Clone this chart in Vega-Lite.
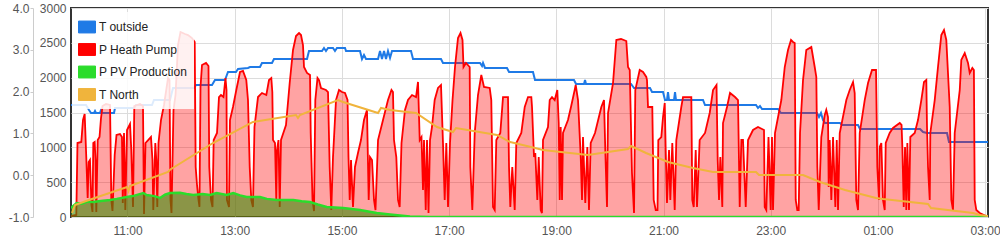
{
"$schema": "https://vega.github.io/schema/vega-lite/v6.json",
"width": 917, "height": 209,
"autosize": {"type": "none"},
"padding": {"left": 71, "top": 8, "right": 12, "bottom": 28},
"background": "white",
"config": {
  "view": {"stroke": "#333", "strokeWidth": 2},
  "font": "Liberation Sans",
  "axis": {"labelFont": "Liberation Sans", "labelFontSize": 12, "labelColor": "#555", "title": null}
},
"datasets": {
"hp": [
{"h":9.946,"v":14},{"h":10.045,"v":29},{"h":10.067,"v":1062},{"h":10.138,"v":1077},{"h":10.170,"v":1392},{"h":10.201,"v":1478},{"h":10.231,"v":861},{"h":10.257,"v":273},{"h":10.276,"v":789},{"h":10.300,"v":818},{"h":10.328,"v":172},{"h":10.347,"v":72},{"h":10.362,"v":1062},{"h":10.388,"v":1077},{"h":10.403,"v":818},{"h":10.418,"v":72},{"h":10.444,"v":1105},{"h":10.478,"v":1148},{"h":10.506,"v":1421},{"h":10.534,"v":1593},{"h":10.599,"v":1622},{"h":10.674,"v":1608},{"h":10.698,"v":244},{"h":10.720,"v":86},{"h":10.761,"v":890},{"h":10.795,"v":1177},{"h":10.860,"v":1191},{"h":10.897,"v":1148},{"h":10.912,"v":201},{"h":10.935,"v":1206},{"h":10.959,"v":100},{"h":10.991,"v":1249},{"h":11.047,"v":1335},{"h":11.071,"v":962},{"h":11.103,"v":144},{"h":11.127,"v":1593},{"h":11.233,"v":1622},{"h":11.289,"v":1593},{"h":11.308,"v":43},{"h":11.336,"v":1062},{"h":11.438,"v":1148},{"h":11.466,"v":818},{"h":11.481,"v":100},{"h":11.519,"v":1062},{"h":11.537,"v":818},{"h":11.556,"v":144},{"h":11.578,"v":1062},{"h":11.625,"v":1392},{"h":11.681,"v":1608},{"h":11.756,"v":1995},{"h":11.784,"v":1966},{"h":11.802,"v":244},{"h":11.821,"v":57},{"h":11.858,"v":1536},{"h":11.896,"v":1751},{"h":11.942,"v":2469},{"h":11.989,"v":2655},{"h":12.073,"v":2627},{"h":12.129,"v":2612},{"h":12.203,"v":2569},{"h":12.254,"v":2512},{"h":12.272,"v":718},{"h":12.297,"v":459},{"h":12.325,"v":244},{"h":12.343,"v":144},{"h":12.362,"v":1866},{"h":12.390,"v":2182},{"h":12.465,"v":2211},{"h":12.511,"v":2167},{"h":12.526,"v":718},{"h":12.558,"v":244},{"h":12.586,"v":144},{"h":12.608,"v":1105},{"h":12.670,"v":1206},{"h":12.707,"v":1722},{"h":12.744,"v":1751},{"h":12.791,"v":1722},{"h":12.828,"v":1995},{"h":12.847,"v":1823},{"h":12.856,"v":244},{"h":12.894,"v":144},{"h":12.912,"v":1392},{"h":12.968,"v":1579},{"h":13.030,"v":1823},{"h":13.099,"v":2081},{"h":13.155,"v":2096},{"h":13.216,"v":1966},{"h":13.248,"v":1679},{"h":13.280,"v":718},{"h":13.310,"v":244},{"h":13.341,"v":144},{"h":13.369,"v":1292},{"h":13.435,"v":1722},{"h":13.509,"v":1780},{"h":13.590,"v":1751},{"h":13.640,"v":1966},{"h":13.683,"v":1995},{"h":13.702,"v":1794},{"h":13.715,"v":1105},{"h":13.752,"v":1062},{"h":13.776,"v":244},{"h":13.789,"v":962},{"h":13.817,"v":1105},{"h":13.840,"v":144},{"h":13.864,"v":1105},{"h":13.957,"v":1321},{"h":14.026,"v":1923},{"h":14.088,"v":2397},{"h":14.144,"v":2598},{"h":14.200,"v":2641},{"h":14.237,"v":2612},{"h":14.274,"v":2469},{"h":14.293,"v":2153},{"h":14.349,"v":2067},{"h":14.405,"v":2038},{"h":14.418,"v":1206},{"h":14.452,"v":244},{"h":14.480,"v":86},{"h":14.504,"v":1679},{"h":14.545,"v":1995},{"h":14.573,"v":1966},{"h":14.610,"v":1852},{"h":14.703,"v":1823},{"h":14.741,"v":1794},{"h":14.772,"v":718},{"h":14.802,"v":100},{"h":14.834,"v":861},{"h":14.890,"v":1679},{"h":14.946,"v":1823},{"h":15.002,"v":1794},{"h":15.058,"v":1780},{"h":15.105,"v":1679},{"h":15.123,"v":861},{"h":15.146,"v":244},{"h":15.170,"v":818},{"h":15.207,"v":144},{"h":15.244,"v":718},{"h":15.300,"v":919},{"h":15.356,"v":1105},{"h":15.412,"v":1392},{"h":15.468,"v":1536},{"h":15.500,"v":244},{"h":15.524,"v":861},{"h":15.562,"v":818},{"h":15.599,"v":244},{"h":15.627,"v":100},{"h":15.674,"v":1105},{"h":15.767,"v":1392},{"h":15.860,"v":1679},{"h":15.925,"v":1823},{"h":15.953,"v":1794},{"h":15.972,"v":1105},{"h":16.015,"v":861},{"h":16.047,"v":244},{"h":16.078,"v":144},{"h":16.112,"v":1062},{"h":16.177,"v":1536},{"h":16.233,"v":1679},{"h":16.308,"v":1751},{"h":16.383,"v":1722},{"h":16.420,"v":1938},{"h":16.452,"v":1105},{"h":16.485,"v":1148},{"h":16.513,"v":388},{"h":16.532,"v":1105},{"h":16.564,"v":100},{"h":16.588,"v":1105},{"h":16.616,"v":57},{"h":16.644,"v":1105},{"h":16.681,"v":1292},{"h":16.731,"v":1679},{"h":16.793,"v":1852},{"h":16.849,"v":1895},{"h":16.886,"v":1062},{"h":16.918,"v":244},{"h":16.948,"v":1062},{"h":16.980,"v":144},{"h":17.017,"v":1062},{"h":17.064,"v":1679},{"h":17.110,"v":2153},{"h":17.166,"v":2569},{"h":17.213,"v":2641},{"h":17.250,"v":2541},{"h":17.269,"v":2153},{"h":17.315,"v":2211},{"h":17.384,"v":2153},{"h":17.396,"v":718},{"h":17.433,"v":100},{"h":17.478,"v":1206},{"h":17.539,"v":1751},{"h":17.601,"v":2038},{"h":17.651,"v":1866},{"h":17.758,"v":1852},{"h":17.787,"v":1679},{"h":17.819,"v":144},{"h":17.851,"v":100},{"h":17.881,"v":1105},{"h":17.955,"v":1206},{"h":18.006,"v":1722},{"h":18.099,"v":1722},{"h":18.118,"v":718},{"h":18.142,"v":144},{"h":18.179,"v":718},{"h":18.224,"v":100},{"h":18.254,"v":1062},{"h":18.347,"v":1206},{"h":18.411,"v":1579},{"h":18.472,"v":1722},{"h":18.534,"v":1722},{"h":18.547,"v":1579},{"h":18.584,"v":861},{"h":18.608,"v":919},{"h":18.646,"v":244},{"h":18.672,"v":861},{"h":18.709,"v":100},{"h":18.733,"v":57},{"h":18.752,"v":1105},{"h":18.845,"v":1292},{"h":18.877,"v":1679},{"h":18.920,"v":1722},{"h":18.970,"v":1679},{"h":19.019,"v":1823},{"h":19.045,"v":1349},{"h":19.064,"v":244},{"h":19.082,"v":1292},{"h":19.107,"v":244},{"h":19.125,"v":1206},{"h":19.218,"v":1392},{"h":19.274,"v":1579},{"h":19.343,"v":1823},{"h":19.362,"v":1895},{"h":19.405,"v":1679},{"h":19.456,"v":861},{"h":19.480,"v":244},{"h":19.498,"v":1148},{"h":19.541,"v":201},{"h":19.579,"v":1005},{"h":19.610,"v":100},{"h":19.642,"v":1062},{"h":19.722,"v":1206},{"h":19.840,"v":1579},{"h":19.890,"v":1679},{"h":19.914,"v":962},{"h":19.946,"v":144},{"h":19.965,"v":1493},{"h":20.058,"v":1923},{"h":20.120,"v":2541},{"h":20.207,"v":2555},{"h":20.306,"v":2526},{"h":20.338,"v":2153},{"h":20.370,"v":2110},{"h":20.412,"v":632},{"h":20.450,"v":57},{"h":20.474,"v":1823},{"h":20.556,"v":2110},{"h":20.618,"v":2081},{"h":20.679,"v":2010},{"h":20.692,"v":1966},{"h":20.711,"v":1579},{"h":20.791,"v":1579},{"h":20.817,"v":244},{"h":20.855,"v":100},{"h":20.888,"v":100},{"h":20.903,"v":1105},{"h":20.959,"v":1148},{"h":20.991,"v":1435},{"h":21.023,"v":1636},{"h":21.041,"v":962},{"h":21.065,"v":201},{"h":21.103,"v":962},{"h":21.127,"v":244},{"h":21.164,"v":1062},{"h":21.209,"v":100},{"h":21.239,"v":1105},{"h":21.332,"v":1579},{"h":21.364,"v":1722},{"h":21.519,"v":1722},{"h":21.537,"v":244},{"h":21.564,"v":144},{"h":21.601,"v":962},{"h":21.625,"v":144},{"h":21.675,"v":1105},{"h":21.775,"v":1206},{"h":21.862,"v":1493},{"h":21.924,"v":1823},{"h":21.989,"v":1895},{"h":22.011,"v":818},{"h":22.036,"v":244},{"h":22.060,"v":861},{"h":22.097,"v":144},{"h":22.110,"v":1349},{"h":22.185,"v":1579},{"h":22.241,"v":1780},{"h":22.334,"v":1722},{"h":22.390,"v":1679},{"h":22.422,"v":144},{"h":22.452,"v":1105},{"h":22.483,"v":1105},{"h":22.534,"v":144},{"h":22.577,"v":1105},{"h":22.670,"v":1249},{"h":22.763,"v":1292},{"h":22.875,"v":1249},{"h":22.888,"v":144},{"h":22.918,"v":100},{"h":22.959,"v":1148},{"h":23.000,"v":100},{"h":23.024,"v":1148},{"h":23.043,"v":100},{"h":23.080,"v":1206},{"h":23.198,"v":1679},{"h":23.262,"v":2153},{"h":23.323,"v":2397},{"h":23.379,"v":2541},{"h":23.416,"v":2512},{"h":23.448,"v":2498},{"h":23.467,"v":244},{"h":23.496,"v":100},{"h":23.522,"v":100},{"h":23.547,"v":1206},{"h":23.603,"v":1966},{"h":23.664,"v":2397},{"h":23.758,"v":2440},{"h":23.821,"v":2153},{"h":23.851,"v":2010},{"h":23.870,"v":718},{"h":23.896,"v":100},{"h":23.944,"v":1148},{"h":24.008,"v":1464},{"h":24.037,"v":1536},{"h":24.069,"v":1435},{"h":24.082,"v":431},{"h":24.101,"v":1105},{"h":24.131,"v":244},{"h":24.163,"v":1148},{"h":24.206,"v":144},{"h":24.232,"v":1105},{"h":24.256,"v":100},{"h":24.288,"v":1206},{"h":24.411,"v":1679},{"h":24.474,"v":1823},{"h":24.536,"v":1938},{"h":24.567,"v":1780},{"h":24.597,"v":244},{"h":24.629,"v":100},{"h":24.661,"v":1206},{"h":24.754,"v":1679},{"h":24.816,"v":1923},{"h":24.890,"v":2110},{"h":24.965,"v":2110},{"h":24.989,"v":718},{"h":25.021,"v":244},{"h":25.034,"v":1005},{"h":25.064,"v":1062},{"h":25.095,"v":244},{"h":25.127,"v":100},{"h":25.146,"v":1062},{"h":25.220,"v":1206},{"h":25.282,"v":1278},{"h":25.407,"v":1349},{"h":25.441,"v":1321},{"h":25.456,"v":1005},{"h":25.482,"v":144},{"h":25.506,"v":1005},{"h":25.530,"v":100},{"h":25.549,"v":1062},{"h":25.580,"v":100},{"h":25.605,"v":1148},{"h":25.687,"v":1206},{"h":25.748,"v":1392},{"h":25.810,"v":1679},{"h":25.860,"v":1938},{"h":25.903,"v":1966},{"h":25.916,"v":1292},{"h":25.935,"v":718},{"h":25.967,"v":244},{"h":25.978,"v":1206},{"h":26.060,"v":1679},{"h":26.121,"v":2153},{"h":26.183,"v":2612},{"h":26.233,"v":2684},{"h":26.276,"v":2541},{"h":26.340,"v":1579},{"h":26.370,"v":244},{"h":26.401,"v":100},{"h":26.433,"v":1206},{"h":26.527,"v":1823},{"h":26.556,"v":2254},{"h":26.620,"v":2354},{"h":26.681,"v":2211},{"h":26.713,"v":2067},{"h":26.762,"v":2139},{"h":26.791,"v":2110},{"h":26.806,"v":244},{"h":26.836,"v":100},{"h":26.900,"v":57},{"h":27.017,"v":14},{"h":27.054,"v":14}
],
"pv": [
{"h":9.946,"v":129},{"h":10.052,"v":201},{"h":10.150,"v":190},{"h":10.250,"v":220},{"h":10.362,"v":215},{"h":10.500,"v":230},{"h":10.674,"v":244},{"h":10.800,"v":260},{"h":10.985,"v":287},{"h":11.100,"v":300},{"h":11.295,"v":344},{"h":11.358,"v":316},{"h":11.500,"v":300},{"h":11.606,"v":273},{"h":11.700,"v":320},{"h":11.793,"v":344},{"h":11.979,"v":349},{"h":12.100,"v":330},{"h":12.228,"v":316},{"h":12.400,"v":330},{"h":12.539,"v":316},{"h":12.664,"v":344},{"h":12.851,"v":316},{"h":12.974,"v":344},{"h":13.100,"v":310},{"h":13.224,"v":287},{"h":13.472,"v":287},{"h":13.600,"v":260},{"h":13.784,"v":244},{"h":14.093,"v":244},{"h":14.250,"v":225},{"h":14.405,"v":215},{"h":14.550,"v":180},{"h":14.716,"v":144},{"h":15.026,"v":129},{"h":15.338,"v":100},{"h":15.649,"v":57},{"h":15.900,"v":36},{"h":16.270,"v":7},{"h":16.640,"v":0},{"h":27.054,"v":0}
],
"tout": [
{"h":9.946,"v":1.679},{"h":10.226,"v":1.679},{"h":10.282,"v":1.560},{"h":10.319,"v":1.488},{"h":10.375,"v":1.488},{"h":10.394,"v":1.536},{"h":10.412,"v":1.488},{"h":10.487,"v":1.488},{"h":10.506,"v":1.560},{"h":10.524,"v":1.488},{"h":10.748,"v":1.488},{"h":10.767,"v":1.608},{"h":11.121,"v":1.608},{"h":11.159,"v":1.679},{"h":11.457,"v":1.679},{"h":11.494,"v":1.799},{"h":11.793,"v":1.799},{"h":11.849,"v":2.086},{"h":12.241,"v":2.086},{"h":12.278,"v":2.158},{"h":12.577,"v":2.158},{"h":12.632,"v":2.277},{"h":12.819,"v":2.277},{"h":12.875,"v":2.469},{"h":13.024,"v":2.469},{"h":13.062,"v":2.541},{"h":13.248,"v":2.565},{"h":13.286,"v":2.588},{"h":13.472,"v":2.588},{"h":13.509,"v":2.684},{"h":13.696,"v":2.684},{"h":13.733,"v":2.780},{"h":14.349,"v":2.780},{"h":14.386,"v":2.971},{"h":14.629,"v":2.971},{"h":14.666,"v":3.043},{"h":14.703,"v":2.971},{"h":14.741,"v":3.043},{"h":14.834,"v":3.043},{"h":14.871,"v":2.971},{"h":14.908,"v":3.043},{"h":15.058,"v":3.043},{"h":15.077,"v":2.971},{"h":15.338,"v":2.971},{"h":15.375,"v":2.780},{"h":15.412,"v":2.876},{"h":15.450,"v":2.780},{"h":15.674,"v":2.780},{"h":15.711,"v":2.971},{"h":15.748,"v":2.780},{"h":15.786,"v":2.971},{"h":15.823,"v":2.780},{"h":15.860,"v":2.971},{"h":15.898,"v":2.804},{"h":15.935,"v":2.971},{"h":16.289,"v":2.971},{"h":16.327,"v":2.780},{"h":16.849,"v":2.780},{"h":16.886,"v":2.684},{"h":17.577,"v":2.684},{"h":17.614,"v":2.612},{"h":17.633,"v":2.684},{"h":17.670,"v":2.565},{"h":18.080,"v":2.565},{"h":18.118,"v":2.469},{"h":18.565,"v":2.469},{"h":18.603,"v":2.277},{"h":19.330,"v":2.277},{"h":19.368,"v":2.182},{"h":19.517,"v":2.182},{"h":19.536,"v":2.277},{"h":19.554,"v":2.182},{"h":20.394,"v":2.182},{"h":20.450,"v":2.086},{"h":20.748,"v":2.086},{"h":20.786,"v":1.990},{"h":20.991,"v":1.990},{"h":21.028,"v":1.799},{"h":21.065,"v":1.799},{"h":21.084,"v":1.990},{"h":21.103,"v":1.799},{"h":21.196,"v":1.799},{"h":21.215,"v":1.990},{"h":21.233,"v":1.799},{"h":21.737,"v":1.799},{"h":21.774,"v":1.679},{"h":22.726,"v":1.679},{"h":22.763,"v":1.608},{"h":22.800,"v":1.655},{"h":22.838,"v":1.584},{"h":23.136,"v":1.584},{"h":23.192,"v":1.488},{"h":23.864,"v":1.488},{"h":23.901,"v":1.392},{"h":23.938,"v":1.488},{"h":23.976,"v":1.321},{"h":24.013,"v":1.249},{"h":24.293,"v":1.249},{"h":24.330,"v":1.201},{"h":24.629,"v":1.201},{"h":24.666,"v":1.105},{"h":25.786,"v":1.105},{"h":25.842,"v":1.033},{"h":25.917,"v":1.010},{"h":26.289,"v":1.010},{"h":26.326,"v":0.794},{"h":27.054,"v":0.794}
],
"tnorth": [
{"h":9.965,"v":-0.904},{"h":10.021,"v":-0.713},{"h":10.226,"v":-0.617},{"h":10.991,"v":-0.282},{"h":11.019,"v":-0.378},{"h":11.047,"v":-0.258},{"h":11.756,"v":0.077},{"h":11.793,"v":0.13},{"h":12.595,"v":0.770},{"h":13.341,"v":1.273},{"h":14.144,"v":1.440},{"h":14.181,"v":1.368},{"h":14.218,"v":1.440},{"h":14.927,"v":1.799},{"h":15.021,"v":1.751},{"h":15.674,"v":1.488},{"h":15.730,"v":1.608},{"h":15.898,"v":1.560},{"h":16.383,"v":1.488},{"h":16.774,"v":1.153},{"h":17.073,"v":1.033},{"h":17.129,"v":1.129},{"h":17.894,"v":0.962},{"h":18.136,"v":0.794},{"h":18.528,"v":0.675},{"h":18.752,"v":0.603},{"h":19.591,"v":0.483},{"h":20.338,"v":0.627},{"h":20.394,"v":0.699},{"h":20.674,"v":0.531},{"h":21.084,"v":0.316},{"h":21.550,"v":0.172},{"h":21.924,"v":0.077},{"h":22.726,"v":0.077},{"h":22.782,"v":0.005},{"h":23.603,"v":0.005},{"h":23.920,"v":-0.163},{"h":24.386,"v":-0.354},{"h":24.965,"v":-0.545},{"h":25.095,"v":-0.569},{"h":25.935,"v":-0.689},{"h":25.991,"v":-0.785},{"h":26.775,"v":-0.904},{"h":26.905,"v":-0.952},{"h":27.054,"v":-0.976}
]
},
"encoding": {
  "x": {"field": "h", "type": "quantitative",
    "scale": {"domain": [9.946, 27.054], "nice": false, "zero": false},
    "axis": {"values": [11,13,15,17,19,21,23,25,27],
      "labelExpr": "(datum.value % 24 < 10 ? '0' : '') + (datum.value % 24) + ':00'",
      "grid": true, "gridColor": "#dcdcdc", "domain": false, "ticks": false, "tickSize": 0, "labelPadding": 8, "title": null}}
},
"layer": [
  {"data": {"name": "tout"},
   "mark": {"type": "line", "strokeWidth": 2, "clip": true},
   "encoding": {
     "y": {"field": "v", "type": "quantitative", "scale": {"domain": [-1, 4], "nice": false, "zero": false},
       "axis": {"orient": "left", "offset": 38, "values": [-1,0,1,2,3,4],
         "labelExpr": "(datum.value < 0 ? '-' : '') + format(abs(datum.value), '.1f')",
         "grid": false, "domain": true, "domainColor": "#cccccc", "ticks": true, "tickColor": "#cccccc", "tickSize": 3, "labelPadding": 1, "title": null}},
     "color": {"datum": "T outside", "type": "nominal",
       "scale": {"domain": ["T outside", "P Heath Pump", "P PV Production", "T North"], "range": ["#1f7ae6", "#ff0000", "#2bdc2b", "#f0b43c"]},
       "legend": {"orient": "none", "legendX": 1, "legendY": 4, "title": null, "direction": "vertical",
         "fillColor": "rgba(255,255,255,0.85)", "padding": 6,
         "symbolType": "M-1,-0.7L1,-0.7L1,0.7L-1,0.7Z", "symbolSize": 289,
         "labelFontSize": 12, "labelFont": "Liberation Sans", "labelColor": "#222", "labelOffset": 3, "rowPadding": 5.5,
         "encode": {"symbols": {"update": {"fill": {"scale": "color", "field": "value"}, "stroke": {"scale": "color", "field": "value"}, "strokeWidth": {"value": 1}, "fillOpacity": {"value": 1}, "opacity": {"value": 1}}}}}}
   }},
  {"data": {"name": "hp"},
   "mark": {"type": "area", "color": "#ff0000", "fillOpacity": 0.36, "clip": true},
   "encoding": {
     "y": {"field": "v", "type": "quantitative", "scale": {"domain": [0, 3000], "nice": false},
       "axis": {"orient": "left", "offset": 0, "values": [0,500,1000,1500,2000,2500,3000], "format": "d",
         "grid": true, "gridColor": "#dcdcdc", "domain": false, "ticks": false, "tickSize": 0, "labelPadding": 5, "title": null}}
   }},
  {"data": {"name": "hp"},
   "mark": {"type": "line", "strokeWidth": 1.8, "clip": true},
   "encoding": {
     "y": {"field": "v", "type": "quantitative", "scale": {"domain": [0, 3000], "nice": false}, "axis": null},
     "color": {"datum": "P Heath Pump", "type": "nominal",
       "scale": {"domain": ["T outside", "P Heath Pump", "P PV Production", "T North"], "range": ["#1f7ae6", "#ff0000", "#2bdc2b", "#f0b43c"]}}
   }},
  {"data": {"name": "pv"},
   "mark": {"type": "area", "color": "#3d8c0a", "fillOpacity": 0.6, "clip": true},
   "encoding": {
     "y": {"field": "v", "type": "quantitative", "scale": {"domain": [0, 3000], "nice": false}, "axis": null}
   }},
  {"data": {"name": "pv"},
   "mark": {"type": "line", "strokeWidth": 2.5, "clip": true},
   "encoding": {
     "y": {"field": "v", "type": "quantitative", "scale": {"domain": [0, 3000], "nice": false}, "axis": null},
     "color": {"datum": "P PV Production", "type": "nominal",
       "scale": {"domain": ["T outside", "P Heath Pump", "P PV Production", "T North"], "range": ["#1f7ae6", "#ff0000", "#2bdc2b", "#f0b43c"]}}
   }},
  {"data": {"name": "tnorth"},
   "mark": {"type": "line", "strokeWidth": 2, "clip": true},
   "encoding": {
     "y": {"field": "v", "type": "quantitative", "scale": {"domain": [-1, 4], "nice": false, "zero": false}, "axis": null},
     "color": {"datum": "T North", "type": "nominal",
       "scale": {"domain": ["T outside", "P Heath Pump", "P PV Production", "T North"], "range": ["#1f7ae6", "#ff0000", "#2bdc2b", "#f0b43c"]}}
   }}
],
"resolve": {"scale": {"y": "independent"}, "axis": {"y": "independent"}}
}
